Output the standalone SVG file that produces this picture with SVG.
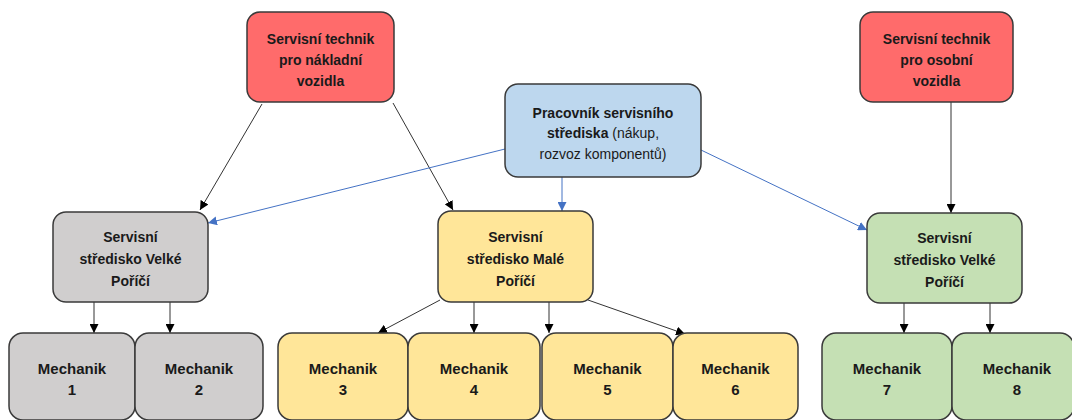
<svg xmlns="http://www.w3.org/2000/svg" width="1072" height="420" viewBox="0 0 1072 420">
<style>
.box{stroke:#3a3a3a;stroke-width:1.5}
.red{fill:#FF6B6B}
.blue{fill:#BDD7EE}
.gray{fill:#D0CECE}
.yellow{fill:#FFE699}
.green{fill:#C5E0B4}
text{font-family:"Liberation Sans",Arial,sans-serif;font-size:14px;font-weight:bold;fill:#1a1a1a;text-anchor:middle}
text.m{font-size:15px}
.n{font-weight:normal}
.c{stroke:#333;stroke-width:1;fill:none}
.cb{stroke:#4472C4;stroke-width:1;fill:none}
</style>
<defs>
<marker id="ah" viewBox="0 0 10 10" refX="10" refY="5" markerWidth="9" markerHeight="9" markerUnits="userSpaceOnUse" orient="auto">
<path d="M0,0 L10,5 L0,10 z" fill="#000"/>
</marker>
<marker id="ahb" viewBox="0 0 10 10" refX="10" refY="5" markerWidth="9" markerHeight="9" markerUnits="userSpaceOnUse" orient="auto">
<path d="M0,0 L10,5 L0,10 z" fill="#4472C4"/>
</marker>
</defs>
<rect width="1072" height="420" fill="#fff"/>
<g id="connectors">
<line class="c" x1="262" y1="104" x2="200" y2="210" marker-end="url(#ah)"/>
<line class="c" x1="393" y1="103" x2="453" y2="210" marker-end="url(#ah)"/>
<line class="cb" x1="505" y1="149" x2="208" y2="223" marker-end="url(#ahb)"/>
<line class="cb" x1="562" y1="177" x2="562" y2="211" marker-end="url(#ahb)"/>
<line class="cb" x1="701" y1="150" x2="867" y2="230" marker-end="url(#ahb)"/>
<line class="c" x1="951" y1="102" x2="951" y2="213" marker-end="url(#ah)"/>
<line class="c" x1="94" y1="302" x2="94" y2="333" marker-end="url(#ah)"/>
<line class="c" x1="170" y1="302" x2="170" y2="333" marker-end="url(#ah)"/>
<line class="c" x1="440" y1="300" x2="378" y2="333" marker-end="url(#ah)"/>
<line class="c" x1="474" y1="302" x2="474" y2="333" marker-end="url(#ah)"/>
<line class="c" x1="549" y1="302" x2="549" y2="333" marker-end="url(#ah)"/>
<line class="c" x1="588" y1="300" x2="685" y2="334" marker-end="url(#ah)"/>
<line class="c" x1="904" y1="303" x2="904" y2="333" marker-end="url(#ah)"/>
<line class="c" x1="990" y1="303" x2="990" y2="333" marker-end="url(#ah)"/>
</g>
<g id="tech-nakladni">
<rect class="box red" x="247" y="12" width="147" height="90" rx="13"/>
<text x="320.5" y="44">Servisní technik</text>
<text x="320.5" y="65">pro nákladní</text>
<text x="320.5" y="86">vozidla</text>
</g>
<g id="pracovnik">
<rect class="box blue" x="505" y="84" width="196" height="93" rx="13"/>
<text x="603" y="118">Pracovník servisního</text>
<text x="603" y="138">střediska<tspan class="n"> (nákup,</tspan></text>
<text x="603" y="159" class="n">rozvoz komponentů)</text>
</g>
<g id="tech-osobni">
<rect class="box red" x="860" y="12" width="153" height="90" rx="13"/>
<text x="936.5" y="44">Servisní technik</text>
<text x="936.5" y="65">pro osobní</text>
<text x="936.5" y="86">vozidla</text>
</g>
<g id="stredisko-velke-1">
<rect class="box gray" x="53" y="212" width="155" height="90" rx="13"/>
<text x="130.5" y="242">Servisní</text>
<text x="130.5" y="264">středisko Velké</text>
<text x="130.5" y="286">Poříčí</text>
</g>
<g id="stredisko-male">
<rect class="box yellow" x="438" y="211" width="155" height="91" rx="13"/>
<text x="515.5" y="242">Servisní</text>
<text x="515.5" y="264">středisko Malé</text>
<text x="515.5" y="286">Poříčí</text>
</g>
<g id="stredisko-velke-2">
<rect class="box green" x="867" y="213" width="155" height="90" rx="13"/>
<text x="944.5" y="243">Servisní</text>
<text x="944.5" y="265">středisko Velké</text>
<text x="944.5" y="287">Poříčí</text>
</g>
<g id="mechanik-1">
<rect class="box gray" x="9" y="333" width="126" height="87" rx="14"/>
<text class="m" x="72" y="374">Mechanik</text>
<text class="m" x="72" y="395">1</text>
</g>
<g id="mechanik-2">
<rect class="box gray" x="135" y="333" width="128" height="87" rx="14"/>
<text class="m" x="199" y="374">Mechanik</text>
<text class="m" x="199" y="395">2</text>
</g>
<g id="mechanik-3">
<rect class="box yellow" x="278" y="333" width="130" height="87" rx="14"/>
<text class="m" x="343" y="374">Mechanik</text>
<text class="m" x="343" y="395">3</text>
</g>
<g id="mechanik-4">
<rect class="box yellow" x="408" y="333" width="132" height="87" rx="14"/>
<text class="m" x="474" y="374">Mechanik</text>
<text class="m" x="474" y="395">4</text>
</g>
<g id="mechanik-5">
<rect class="box yellow" x="542" y="333" width="131" height="87" rx="14"/>
<text class="m" x="607.5" y="374">Mechanik</text>
<text class="m" x="607.5" y="395">5</text>
</g>
<g id="mechanik-6">
<rect class="box yellow" x="673" y="333" width="125" height="87" rx="14"/>
<text class="m" x="735.5" y="374">Mechanik</text>
<text class="m" x="735.5" y="395">6</text>
</g>
<g id="mechanik-7">
<rect class="box green" x="822" y="333" width="130" height="87" rx="14"/>
<text class="m" x="887" y="374">Mechanik</text>
<text class="m" x="887" y="395">7</text>
</g>
<g id="mechanik-8">
<rect class="box green" x="952" y="333" width="122" height="87" rx="14"/>
<text class="m" x="1017" y="374">Mechanik</text>
<text class="m" x="1017" y="395">8</text>
</g>
</svg>
